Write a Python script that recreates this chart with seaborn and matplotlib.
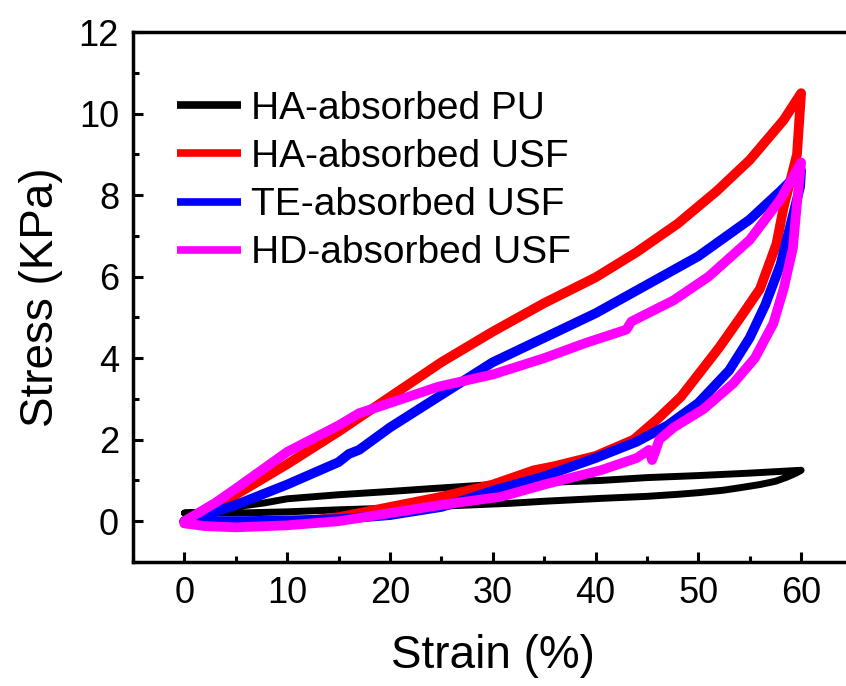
import matplotlib
matplotlib.use("Agg")
import matplotlib.pyplot as plt
import seaborn as sns
from matplotlib.ticker import MultipleLocator

# HA-absorbed PU
pu_load_x = [0, 2, 4, 7.8, 10, 15, 20, 24, 30, 35, 40.5, 45, 50, 55, 60]
pu_load_y = [0.2, 0.22, 0.32, 0.45, 0.55, 0.65, 0.73, 0.8, 0.9, 0.95, 1.0, 1.07, 1.12, 1.18, 1.25]
pu_unload_x = [60, 59.5, 58.6, 57.5, 56, 54, 52.4, 50, 48, 45, 40.5, 35, 31.7, 25, 20, 15, 10, 5, 0]
pu_unload_y = [1.25, 1.18, 1.08, 0.98, 0.9, 0.82, 0.76, 0.7, 0.66, 0.61, 0.56, 0.49, 0.44, 0.37, 0.32, 0.28, 0.23, 0.2, 0.2]

# HA-absorbed USF
ha_load_x = [0, 2, 5, 10, 15, 20, 25, 30, 35, 40, 44, 48, 51.8, 55, 58.3, 60]
ha_load_y = [0, 0.2, 0.65, 1.4, 2.2, 3.05, 3.9, 4.65, 5.35, 5.98, 6.6, 7.3, 8.1, 8.86, 9.84, 10.5]
ha_unload_x = [60, 59.6, 58.9, 58.3, 57.6, 56, 54.1, 52, 50, 48.3, 46, 43.7, 40, 36, 34, 30, 25, 20, 15, 10, 5, 2, 0]
ha_unload_y = [10.5, 9.0, 8.3, 7.7, 6.8, 5.7, 5.0, 4.25, 3.6, 3.05, 2.5, 2.0, 1.6, 1.35, 1.25, 0.9, 0.6, 0.35, 0.1, -0.05, -0.1, -0.08, -0.05]

# TE-absorbed USF
te_load_x = [0, 2, 5, 10, 15, 16, 17, 20, 25, 30, 35, 40, 45, 50, 55, 58, 60]
te_load_y = [0, 0.15, 0.4, 0.9, 1.45, 1.65, 1.75, 2.3, 3.1, 3.9, 4.5, 5.1, 5.8, 6.5, 7.4, 8.1, 8.6]
te_unload_x = [60, 59.9, 59, 58, 56.5, 55, 53, 50, 47, 44, 40, 35, 30, 27, 25, 20, 15, 10, 5, 0]
te_unload_y = [8.6, 8.2, 7.3, 6.3, 5.3, 4.5, 3.7, 2.9, 2.35, 1.95, 1.55, 1.1, 0.75, 0.5, 0.35, 0.15, 0.05, 0.02, 0.0, 0.0]

# HD-absorbed USF
hd_load_x = [0, 1, 3, 5, 10, 15, 17, 20, 24.7, 30, 35, 39, 43, 43.5, 47.6, 51, 55, 58, 60]
hd_load_y = [0, 0.15, 0.45, 0.8, 1.7, 2.35, 2.65, 2.9, 3.3, 3.6, 4.0, 4.37, 4.7, 4.9, 5.42, 6.0, 6.9, 7.9, 8.8]
hd_unload_x = [60, 59.6, 59.2, 58.3, 57.3, 55.5, 53.4, 50.5, 47.6, 46.2, 45.8, 45.5, 45.2, 44, 40.5, 35, 30.8, 25, 20, 15, 10, 5, 2, 0]
hd_unload_y = [8.8, 7.8, 6.7, 5.7, 4.85, 4.0, 3.38, 2.75, 2.3, 2.0, 1.7, 1.5, 1.75, 1.55, 1.25, 0.9, 0.6, 0.4, 0.2, 0.0, -0.1, -0.15, -0.12, -0.05]

labels = ["HA-absorbed PU", "HA-absorbed USF", "TE-absorbed USF", "HD-absorbed USF"]
colors = ["black", "red", "blue", "magenta"]
series = [
    (pu_load_x + pu_unload_x, pu_load_y + pu_unload_y),
    (ha_load_x + ha_unload_x, ha_load_y + ha_unload_y),
    (te_load_x + te_unload_x, te_load_y + te_unload_y),
    (hd_load_x + hd_unload_x, hd_load_y + hd_unload_y),
]

sns.set_style("ticks")
plt.rcParams['font.family'] = ['Liberation Sans', 'DejaVu Sans']
plt.rcParams.update({'text.color': 'black', 'axes.labelcolor': 'black',
                     'xtick.color': 'black', 'ytick.color': 'black',
                     'axes.edgecolor': 'black'})

fig = plt.figure(figsize=(8.46, 6.86), dpi=100)
ax = fig.add_axes([133 / 846, 124 / 686, 719.5 / 846, 530 / 686])

widths = [5, 7, 7, 7]
for (xs, ys), lab, c, w in zip(series, labels, colors, widths):
    sns.lineplot(x=xs, y=ys, sort=False, estimator=None, color=c, lw=w,
                 label=lab, ax=ax, solid_joinstyle='round', solid_capstyle='round')

ax.set_xlim(-5, 65)
ax.set_ylim(-1, 12)
ax.xaxis.set_major_locator(MultipleLocator(10))
ax.xaxis.set_minor_locator(MultipleLocator(5))
ax.yaxis.set_major_locator(MultipleLocator(2))
ax.yaxis.set_minor_locator(MultipleLocator(1))
ax.tick_params(which='both', direction='in', width=2.2, labelsize=26, pad=10,
               top=False, right=False)
ax.tick_params(which='major', length=7.5)
ax.tick_params(which='minor', length=4)
for s in ax.spines.values():
    s.set_linewidth(2.5)
ax.spines['right'].set_visible(False)

ax.set_xlabel('Strain (%)', fontsize=33, labelpad=17)
ax.set_ylabel('Stress (KPa)', fontsize=33, labelpad=11)

leg = ax.legend(loc='upper left', bbox_to_anchor=(0.039, 0.918), frameon=False,
                fontsize=28, handlelength=1.65, handletextpad=0.25,
                labelspacing=0.31, borderaxespad=0)
for h in leg.get_lines():
    h.set_linewidth(5.5)
    h.set_solid_capstyle('butt')

fig.savefig('out.png', dpi=100)
